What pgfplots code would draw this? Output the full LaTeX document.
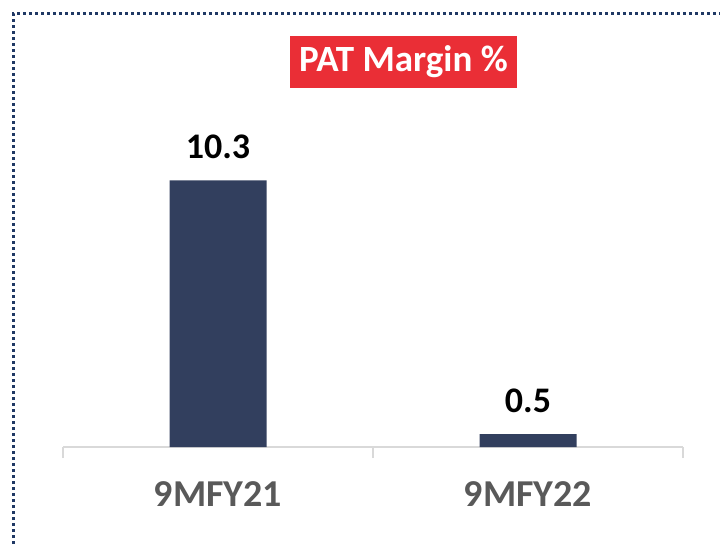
\documentclass[border=0pt]{standalone}
\usepackage{pgfplots}
\pgfplotsset{compat=1.18}
\usepackage{fontspec}
\setmainfont{Carlito}
\definecolor{barc}{HTML}{323F5E}
\definecolor{navy}{HTML}{1F3864}
\definecolor{titlered}{HTML}{EA2E36}
\definecolor{lblgray}{HTML}{595959}
\definecolor{axgray}{HTML}{D9D9D9}
\begin{document}
\begin{tikzpicture}
\path[use as bounding box] (0pt,0pt) rectangle (720pt,544pt);
\draw[navy, line width=3pt, dash pattern=on 3pt off 3pt] (13pt,0pt) -- (13pt,530pt) -- (720pt,530pt);
\node[fill=titlered, text=white, font=\fontsize{37}{40}\selectfont\bfseries, minimum width=227pt, minimum height=52pt, inner sep=0pt] at (403.5pt,482pt) {PAT Margin \%};
\begin{axis}[
  at={(63pt,97pt)}, anchor=south west,
  scale only axis, width=620pt, height=347pt,
  xmin=-0.5, xmax=1.5, ymin=0, ymax=13.4,
  axis x line=bottom, axis y line=none,
  x axis line style={-, axgray, line width=1.5pt},
  xtick={0,1}, xticklabels={9MFY21,9MFY22},
  major tick length=0pt,
  extra x ticks={-0.5,0.5,1.5}, extra x tick labels={},
  extra x tick style={major tick length=11pt, tick align=outside, tick style={axgray, line width=1.5pt}},
  xticklabel style={font=\fontsize{38}{40}\selectfont\bfseries, text=lblgray, anchor=north, inner sep=0pt, yshift=-34pt},
  ybar, bar width=97pt, bar shift=0pt,
  clip=false,
  /pgf/number format/assume math mode=true,
  /pgf/number format/fixed, /pgf/number format/precision=1,
  nodes near coords,
  nodes near coords style={font=\fontsize{36}{40}\selectfont\bfseries, text=black, anchor=south, inner sep=0pt, yshift=21pt},
]
\addplot[fill=barc, draw=none] coordinates {(0,10.3) (1,0.5)};
\end{axis}
\end{tikzpicture}
\end{document}
